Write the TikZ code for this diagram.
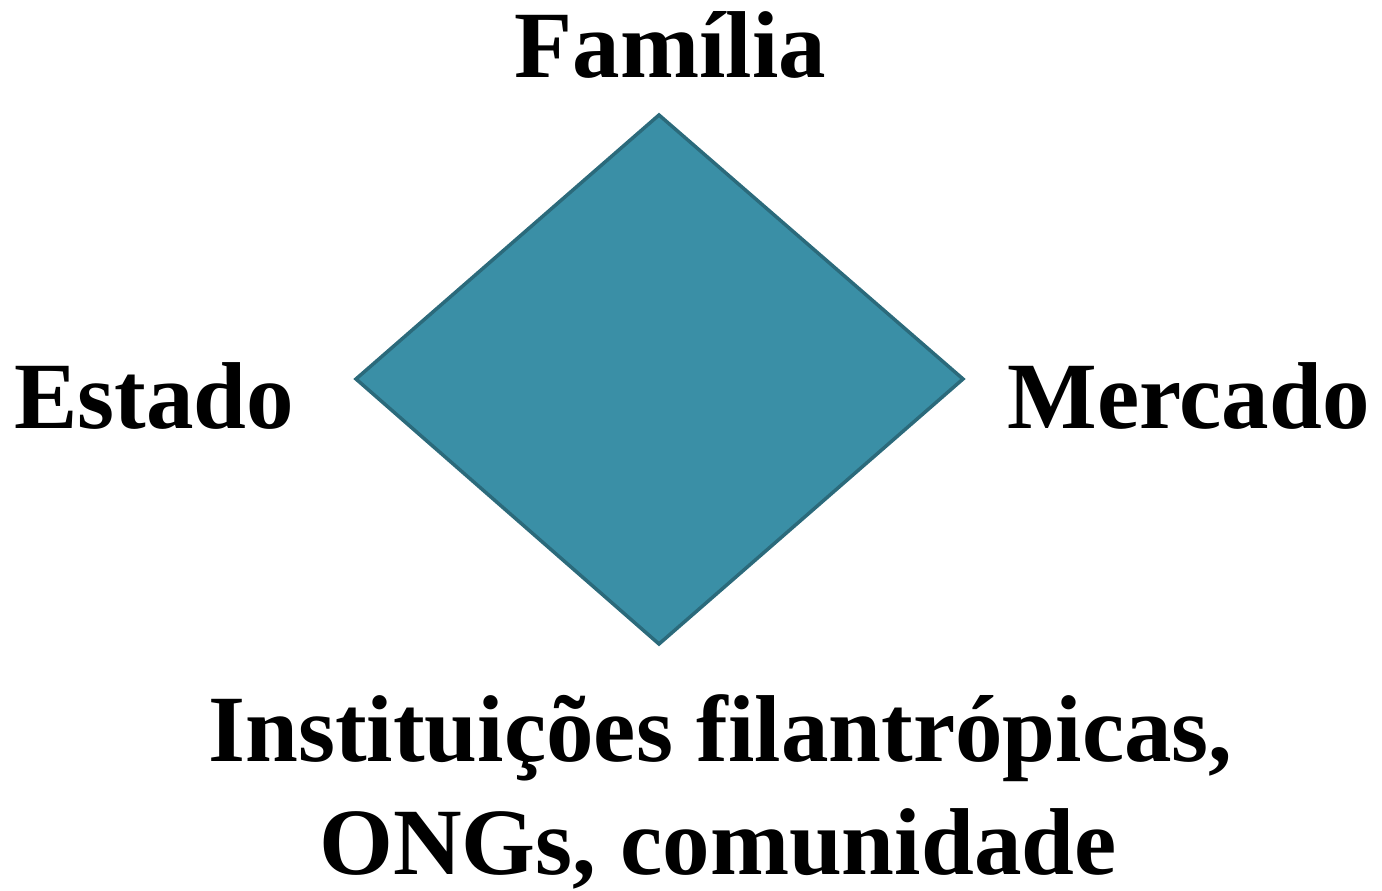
\documentclass[tikz,border=0pt]{standalone}
\usepackage{fontspec}
\setmainfont{Liberation Serif}
\definecolor{dfill}{HTML}{3A8FA6}
\definecolor{dline}{HTML}{2B6A7B}
\tikzset{
  lbl/.style={font=\fontsize{95}{115}\selectfont\bfseries, anchor=base, inner sep=0pt, align=center},
  diam/.style={fill=dfill, draw=dline, line width=3.5pt, line join=miter}
}
\begin{document}
\begin{tikzpicture}[x=1pt,y=1pt]
\useasboundingbox (0,0) rectangle (1382,891);
\coordinate (top) at (659,776);
\coordinate (left) at (356,512);
\coordinate (right) at (963,512);
\coordinate (bottom) at (659,247);
\path[diam] (top) -- (right) -- (bottom) -- (left) -- cycle;
\node[lbl] (familia) at (670.5,813) {Família};
\node[lbl] (estado) at (154,462) {Estado};
\node[lbl] (mercado) at (1188.5,462) {Mercado};
\node[lbl] (inst1) at (720.5,129) {Instituições filantrópicas,};
\node[lbl] (inst2) at (718,16) {ONGs, comunidade};
\end{tikzpicture}
\end{document}
